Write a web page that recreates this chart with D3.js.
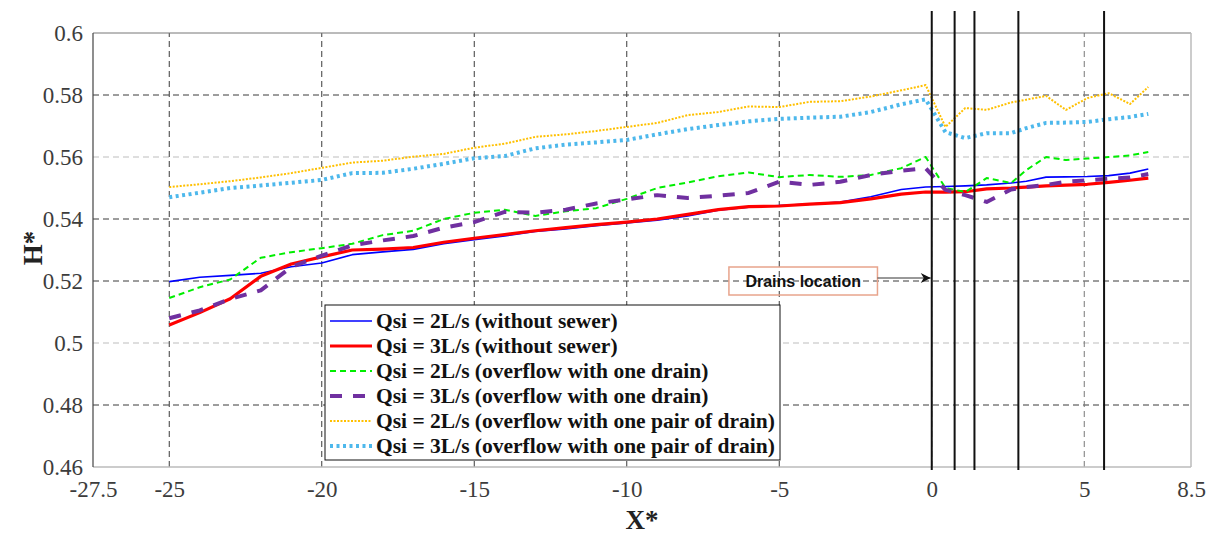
<!DOCTYPE html>
<html>
    <head>
        <meta charset="utf-8"/>
        <script src="https://cdnjs.cloudflare.com/ajax/libs/d3/7.8.5/d3.min.js"></script>
        <style>
            body { margin: 0; background: #fff; }
            .tick text { font-family: 'Liberation Serif', 'Times New Roman', serif !important; font-size: 23px !important; fill: #3c3c3c; }
        </style>
    </head>
    <body>
        <script>
            // x positions (X*) shared by all series
            const xs = [-25, -24, -23, -22, -21, -20, -19, -18, -17, -16, -15, -14, -13, -12, -11, -10, -9, -8, -7, -6, -5, -4, -3, -2, -1,
                        -0.2, 0.45, 1.1, 1.8, 2.6, 3.1, 3.75, 4.4, 5.1, 5.8, 6.5, 7.1];

            const q2NoSewer = [0.5198, 0.5212, 0.5218, 0.5225, 0.5246, 0.5258, 0.5285, 0.5294, 0.5302, 0.532, 0.5333, 0.5345, 0.536, 0.5368, 0.5378, 0.5387, 0.5396, 0.541, 0.5428, 0.5438, 0.5443, 0.5448, 0.5455, 0.5472, 0.5495,
                               0.5503, 0.5505, 0.5507, 0.551, 0.5516, 0.5522, 0.5535, 0.5536, 0.5537, 0.554, 0.5548, 0.5561];
            const q3NoSewer = [0.5058, 0.5098, 0.5143, 0.5215, 0.5255, 0.5278, 0.53, 0.5303, 0.5308, 0.5325, 0.5338, 0.535, 0.5362, 0.5372, 0.5382, 0.539, 0.54, 0.5415, 0.543, 0.544, 0.5442, 0.5448, 0.5453, 0.5465, 0.548,
                               0.5487, 0.5487, 0.5488, 0.5497, 0.55, 0.5503, 0.5507, 0.5509, 0.5512, 0.5518, 0.5525, 0.5532];
            const q2OneDrain = [0.5145, 0.518, 0.5205, 0.5275, 0.5293, 0.5306, 0.532, 0.5348, 0.5362, 0.54, 0.542, 0.543, 0.541, 0.5425, 0.5435, 0.5465, 0.55, 0.5518, 0.5538, 0.555, 0.5535, 0.5542, 0.5536, 0.5542, 0.5564,
                                0.56, 0.55, 0.5487, 0.5532, 0.5516, 0.5558, 0.56, 0.559, 0.5595, 0.56, 0.5605, 0.5616];
            const q3OneDrain = [0.508, 0.5105, 0.5142, 0.517, 0.5245, 0.5282, 0.5315, 0.5331, 0.5345, 0.5372, 0.539, 0.5423, 0.542, 0.543, 0.545, 0.5463, 0.5477, 0.5468, 0.5475, 0.5484, 0.552, 0.551, 0.552, 0.5542, 0.5556,
                                0.5564, 0.5494, 0.5477, 0.5455, 0.5495, 0.5503, 0.551, 0.552, 0.5525, 0.553, 0.5534, 0.5545];
            const q2PairDrain = [0.5503, 0.5512, 0.5522, 0.5534, 0.5548, 0.5565, 0.5582, 0.5588, 0.5601, 0.561, 0.563, 0.5643, 0.5665, 0.5673, 0.5684, 0.5697, 0.571, 0.5735, 0.5745, 0.5763, 0.5761, 0.5778, 0.578, 0.5795, 0.5815,
                                 0.5832, 0.5697, 0.5758, 0.5752, 0.5776, 0.5785, 0.5797, 0.5752, 0.579, 0.5806, 0.5771, 0.5826];
            const q3PairDrain = [0.547, 0.5485, 0.55, 0.5508, 0.5517, 0.5526, 0.5548, 0.5549, 0.5562, 0.5578, 0.5596, 0.5603, 0.5628, 0.564, 0.5647, 0.5655, 0.5673, 0.569, 0.5703, 0.5715, 0.5723, 0.5727, 0.573, 0.5745, 0.577,
                                 0.5786, 0.568, 0.5661, 0.5677, 0.5677, 0.5693, 0.571, 0.5711, 0.5713, 0.5722, 0.5729, 0.5739];

            const seriesNames = ["Qsi = 2L/s (without sewer)", "Qsi = 3L/s (without sewer)",
                                 "Qsi = 2L/s (overflow with one drain)", "Qsi = 3L/s (overflow with one drain)",
                                 "Qsi = 2L/s (overflow with one pair of drain)", "Qsi = 3L/s (overflow with one pair of drain)"];

            const xTicks = [-27.5, -25, -20, -15, -10, -5, 0, 5, 8.5];
            const yTicks = [0.46, 0.48, 0.5, 0.52, 0.54, 0.56, 0.58, 0.6];
            const drains = [0, 0.75, 1.4, 2.84, 5.65];

            const styles = [
                {color: "#0000ff", width: 1.6, dash: null},
                {color: "#ff0000", width: 3.2, dash: null},
                {color: "#00ee00", width: 2, dash: "6,4"},
                {color: "#7030a0", width: 4, dash: "12,11"},
                {color: "#ffc000", width: 2, dash: "2,1.5"},
                {color: "#4db8ec", width: 4, dash: "3,3.5"}
            ];
            const allValues = [q2NoSewer, q3NoSewer, q2OneDrain, q3OneDrain, q2PairDrain, q3PairDrain];

            const serif = "'Liberation Serif', 'Times New Roman', serif";
            const width = 1215, height = 536;
            const margin = {top: 33, right: 24, bottom: 69, left: 93};

            const svg = d3.select("body").append("svg")
                .attr("width", width).attr("height", height);

            const x = d3.scaleLinear().domain([-27.5, 8.5]).range([margin.left, width - margin.right]);
            const y = d3.scaleLinear().domain([0.46, 0.6]).range([height - margin.bottom, margin.top]);

            // grid
            const lightY = [0.5, 0.56];
            svg.append("g").selectAll("line")
                .data(yTicks.filter(d => d > 0.46 && d < 0.6))
                .join("line")
                .attr("x1", x.range()[0]).attr("x2", x.range()[1])
                .attr("y1", d => y(d)).attr("y2", d => y(d))
                .attr("stroke", d => lightY.includes(d) ? "#bdbdbd" : "#3a3a3a")
                .attr("stroke-width", 1)
                .attr("stroke-dasharray", "6,4");
            svg.append("g").selectAll("line")
                .data(xTicks.filter(d => d > -27.5 && d < 8.5))
                .join("line")
                .attr("x1", d => x(d)).attr("x2", d => x(d))
                .attr("y1", y.range()[0]).attr("y2", y.range()[1])
                .attr("stroke", d => d === 5 ? "#777" : "#3a3a3a")
                .attr("stroke-width", 1)
                .attr("stroke-dasharray", "6,4");

            // frame
            svg.append("line").attr("x1", x.range()[0]).attr("x2", x.range()[1]).attr("y1", y.range()[1]).attr("y2", y.range()[1]).attr("stroke", "#777");
            svg.append("line").attr("x1", x.range()[1]).attr("x2", x.range()[1]).attr("y1", y.range()[0]).attr("y2", y.range()[1]).attr("stroke", "#bbb").attr("stroke-width", 1.5);
            svg.append("line").attr("x1", x.range()[0]).attr("x2", x.range()[1]).attr("y1", y.range()[0]).attr("y2", y.range()[0]).attr("stroke", "#bbb").attr("stroke-width", 1.5);
            svg.append("line").attr("x1", x.range()[0]).attr("x2", x.range()[0]).attr("y1", y.range()[0]).attr("y2", y.range()[1]).attr("stroke", "#444").attr("stroke-width", 1.2);

            // axes
            const fmtY = d => String(+d.toFixed(2));
            const yAxis = svg.append("g")
                .attr("transform", `translate(${margin.left},0)`)
                .call(d3.axisLeft(y).tickValues(yTicks).tickFormat(fmtY).tickSize(0).tickPadding(10));
            const xAxis = svg.append("g")
                .attr("transform", `translate(0,${height - margin.bottom})`)
                .call(d3.axisBottom(x).tickValues(xTicks).tickFormat(d => String(d)).tickSize(0).tickPadding(14));
            [yAxis, xAxis].forEach(g => {
                g.select(".domain").remove();
                g.attr("font-family", serif).attr("font-size", 23);
            });

            svg.append("text")
                .attr("transform", "translate(42,248) rotate(-90)")
                .attr("text-anchor", "middle")
                .style("font-family", serif)
                .style("font-weight", "bold")
                .style("font-size", "27px")
                .attr("fill", "#222")
                .text("H*");
            svg.append("text")
                .attr("x", (x.range()[0] + x.range()[1]) / 2)
                .attr("y", 529)
                .attr("text-anchor", "middle")
                .style("font-family", serif)
                .style("font-weight", "bold")
                .style("font-size", "27px")
                .attr("fill", "#222")
                .text("X*");

            // series
            const line = d3.line().x(d => x(d[0])).y(d => y(d[1]));
            allValues.forEach((vals, i) => {
                const s = styles[i];
                svg.append("path")
                    .datum(xs.map((xv, j) => [xv, vals[j]]))
                    .attr("fill", "none")
                    .attr("stroke", s.color)
                    .attr("stroke-width", s.width)
                    .attr("stroke-dasharray", s.dash)
                    .attr("stroke-linejoin", "round")
                    .attr("d", line);
            });

            // drain lines
            svg.append("g").selectAll("line")
                .data(drains)
                .join("line")
                .attr("x1", d => x(d)).attr("x2", d => x(d))
                .attr("y1", y.range()[1] - 22).attr("y2", y.range()[0] + 3)
                .attr("stroke", "#111")
                .attr("stroke-width", 2);

            // annotation
            const defs = svg.append("defs");
            defs.append("marker")
                .attr("id", "arrow")
                .attr("viewBox", "0 0 10 10")
                .attr("refX", 10).attr("refY", 5)
                .attr("markerWidth", 14).attr("markerHeight", 10)
                .attr("markerUnits", "userSpaceOnUse")
                .attr("orient", "auto")
                .append("path").attr("d", "M0,0 L10,5 L0,10 L3,5 Z").attr("fill", "#111");

            const annoY = y(0.52);
            svg.append("rect")
                .attr("x", x(-6.65)).attr("y", annoY - 14)
                .attr("width", x(-1.78) - x(-6.65)).attr("height", 28)
                .attr("fill", "none")
                .attr("stroke", "#e8a48c")
                .attr("stroke-width", 1.5);
            svg.append("text")
                .attr("x", (x(-6.65) + x(-1.78)) / 2)
                .attr("y", annoY + 6)
                .attr("text-anchor", "middle")
                .style("font-family", "'Liberation Sans', Arial, sans-serif")
                .style("font-weight", "bold")
                .style("font-size", "16px")
                .attr("fill", "#111")
                .text("Drains location");
            svg.append("line")
                .attr("x1", x(-1.78)).attr("x2", x(0) - 1)
                .attr("y1", annoY - 3).attr("y2", annoY - 3)
                .attr("stroke", "#333").attr("stroke-width", 1)
                .attr("marker-end", "url(#arrow)");

            // legend
            const legend = svg.append("g").attr("transform", "translate(325,305)");
            legend.append("rect")
                .attr("width", 455).attr("height", 155)
                .attr("fill", "#fff").attr("stroke", "#111").attr("stroke-width", 1);
            seriesNames.forEach((name, i) => {
                const s = styles[i];
                const ry = 16 + i * 25;
                legend.append("line")
                    .attr("x1", 5).attr("x2", 47)
                    .attr("y1", ry).attr("y2", ry)
                    .attr("stroke", s.color)
                    .attr("stroke-width", s.width)
                    .attr("stroke-dasharray", s.dash);
                legend.append("text")
                    .attr("x", 51).attr("y", ry + 7)
                    .style("font-family", serif)
                    .style("font-weight", "bold")
                    .style("font-size", "21.5px")
                    .attr("fill", "#111")
                    .text(name);
            });
        </script>
    </body>
</html>
